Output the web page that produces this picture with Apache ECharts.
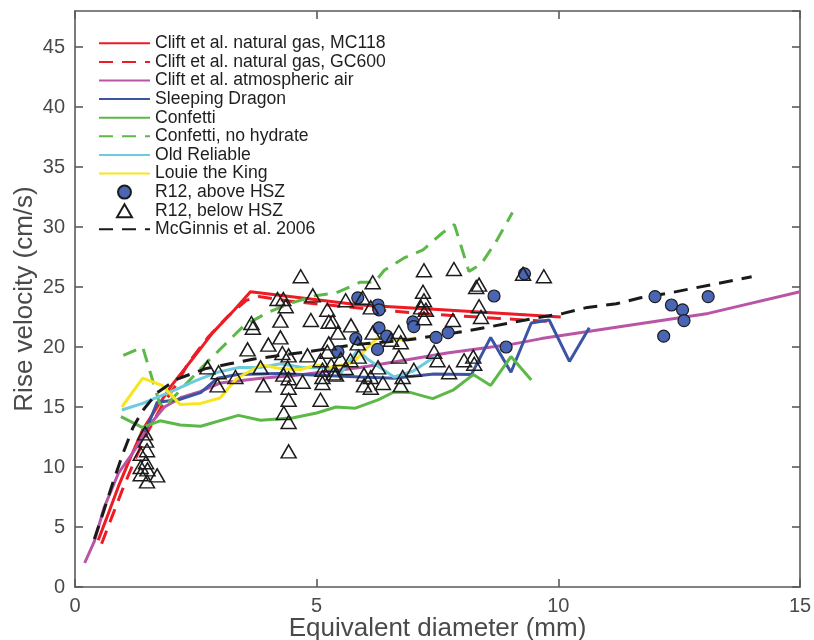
<!DOCTYPE html>
<html>
<head>
<meta charset="utf-8">
<script src="https://cdn.jsdelivr.net/npm/echarts@6/dist/echarts.min.js"></script>
<style>
html, body { margin: 0; padding: 0; background: #fff; }
#chart { width: 814px; height: 640px; }
</style>
</head>
<body>
<div id="chart"></div>
<script>
// axis ticks
let xTicks = [0, 5, 10, 15];
let yTicks = [0, 5, 10, 15, 20, 25, 30, 35, 40, 45];

// [diameter mm, rise velocity cm/s]
let cliftMC118 = [[0.48,3.9],[0.66,5.8],[0.9,8.4],[1.15,10.8],[1.4,13.1],[1.7,15.0],[2.0,16.8],[2.45,19.1],[2.85,21.2],[3.3,23.1],[3.63,24.6],[5.9,23.5],[7.6,23.1],[10.05,22.5]];
let cliftGC600 = [[0.55,3.6],[0.75,5.7],[1.0,8.3],[1.25,10.7],[1.5,12.9],[1.8,15.1],[2.1,16.9],[2.35,18.7],[2.75,20.8],[3.15,22.5],[3.55,23.9],[3.8,24.2],[4.5,23.8],[6.0,23.2],[7.1,22.8],[8.7,22.4],[9.95,22.1]];
let cliftAir = [[0.2,2.0],[0.4,3.8],[0.6,6.6],[0.9,9.5],[1.25,11.5],[1.5,13.3],[1.85,15.0],[2.2,15.8],[2.6,16.3],[3.0,17.0],[3.85,17.4],[4.5,17.6],[5.9,18.3],[6.6,18.75],[7.7,19.5],[9.0,20.2],[9.65,20.7],[11.3,21.7],[13.1,22.8],[15.0,24.6]];
let sleepingDragon = [[1.45,12.9],[1.7,15.4],[2.14,15.6],[2.6,16.2],[2.95,17.4],[3.36,17.7],[4.2,17.8],[5.9,17.5],[6.6,17.4],[7.43,17.75],[8.2,17.7],[8.6,20.8],[9.02,17.9],[9.44,22.0],[9.81,22.25],[10.23,18.8],[10.64,21.6]];
let confetti = [[0.95,14.2],[1.39,13.3],[1.76,13.85],[2.18,13.5],[2.6,13.4],[3.38,14.3],[3.84,13.9],[4.52,14.1],[5.0,14.5],[5.4,15.0],[5.8,14.9],[6.27,15.6],[6.6,16.25],[6.95,16.2],[7.4,15.7],[7.82,16.4],[8.24,17.7],[8.6,16.8],[9.02,19.2],[9.44,17.25]];
let confettiNoHydrate = [[1.0,19.3],[1.4,20.0],[1.75,15.3],[1.85,15.0],[2.2,16.5],[2.6,18.2],[3.0,19.8],[3.5,21.8],[4.0,22.9],[4.5,23.7],[5.0,24.3],[5.4,24.5],[5.9,25.4],[6.2,25.4],[6.4,26.4],[6.8,27.4],[7.2,28.1],[7.6,29.5],[7.85,30.2],[8.15,26.3],[8.4,26.9],[8.7,28.7],[9.05,31.2]];
let oldReliable = [[0.97,14.75],[1.4,15.3],[2.0,16.3],[2.5,17.2],[2.95,17.9],[3.4,18.3],[3.85,18.3],[4.25,18.6],[4.7,18.3],[5.2,18.3],[5.5,17.8],[5.85,19.75],[6.05,19.0],[6.6,17.5],[7.0,18.0],[7.45,19.2]];
let louieTheKing = [[0.97,15.0],[1.4,17.4],[1.8,16.8],[2.18,15.2],[2.6,15.3],[3.0,15.75],[3.35,17.4],[3.85,18.5],[4.25,18.2],[4.65,18.1],[5.0,18.5],[5.3,18.3],[5.75,18.7],[6.0,19.75],[6.27,20.8],[6.7,20.6],[7.05,20.75]];
let mcGinnis = [[0.4,4.0],[0.6,6.4],[0.8,8.9],[1.0,11.2],[1.2,13.3],[1.4,14.7],[1.7,16.2],[2.1,17.3],[2.7,18.2],[3.2,18.6],[3.7,19.0],[4.25,19.3],[4.8,19.6],[5.8,20.2],[6.9,20.6],[7.9,21.2],[8.6,21.7],[9.0,22.0],[9.65,22.5],[10.1,22.8],[10.6,23.3],[11.2,23.6],[11.7,24.1],[12.3,24.5],[12.8,24.9],[13.3,25.3],[14.0,25.85]];

let r12Above = [[5.44,19.6],[5.81,20.7],[5.85,24.1],[6.27,23.5],[6.29,23.1],[6.29,21.6],[6.45,20.9],[6.26,19.8],[6.99,22.1],[7.01,21.7],[7.47,20.8],[7.72,21.2],[8.67,24.25],[8.92,20.0],[9.3,26.1],[12.0,24.2],[12.34,23.5],[12.57,23.1],[12.6,22.2],[12.18,20.9],[13.1,24.2]];
let r12Below = [
  [1.45,12.8],[1.47,12.2],[1.49,11.4],[1.36,11.1],[1.47,10.4],[1.36,10.0],[1.5,9.8],[1.36,9.4],[1.7,9.3],[1.49,8.8],
  [2.74,18.3],[2.97,17.9],[2.95,16.8],[3.32,17.5],[3.57,19.8],[3.65,22.0],[3.68,21.6],[3.84,18.3],[3.9,16.8],[4.0,20.2],
  [4.19,24.0],[4.31,24.0],[4.36,23.4],[4.25,22.2],[4.25,20.8],[4.29,19.5],[4.42,19.3],[4.4,18.3],[4.31,17.7],[4.42,17.4],[4.42,16.6],[4.42,15.6],[4.32,14.5],[4.42,13.75],[4.42,11.3],
  [4.67,25.9],[4.71,17.1],[4.88,22.25],[4.92,24.3],[4.81,19.3],[5.08,15.6],[5.12,17.5],[5.22,23.1],[5.25,22.1],[5.25,20.3],[5.12,18.1],[5.22,19.6],[5.08,18.9],[5.12,17.0],[5.3,18.5],[5.35,17.8],
  [5.44,21.2],[5.33,22.1],[5.6,23.9],[5.95,24.1],[6.12,23.3],[5.71,21.8],[6.16,21.2],[5.85,20.3],[5.87,19.2],[5.6,18.25],[5.4,17.7],[5.98,17.7],[6.12,17.5],[5.98,16.8],[6.12,16.6],[6.16,25.4],[5.5,19.0],[5.7,18.9],
  [6.27,18.3],[6.37,17.0],[6.7,21.25],[6.54,20.6],[6.74,20.4],[6.7,19.2],[6.78,17.5],[6.74,16.8],[7.01,18.1],[7.2,24.6],[7.22,23.9],[7.22,26.4],[7.16,23.3],[7.26,23.1],[7.22,22.4],[7.43,19.6],[7.5,18.9],
  [7.74,17.9],[7.82,22.25],[7.84,26.5],[8.3,25.0],[8.36,25.2],[8.36,23.4],[8.4,22.5],[8.05,18.9],[8.24,19.2],[8.26,18.6],[9.27,26.1],[9.7,25.9]
];

let fontName = 'Liberation Sans, Arial, Helvetica, sans-serif';
let axisGray = '#5a5a5a';
let textGray = '#4a4a4a';

function lineSeries(name, data, color, dashed) {
    return {
        name: name,
        type: 'line',
        data: data,
        symbol: 'none',
        smooth: false,
        lineStyle: { color: color, width: 3, type: dashed ? [14, 9] : 'solid' },
        itemStyle: { color: color },
        z: 2
    };
}

function frameAxis(pos, isX, showLabel) {
    return {
        type: 'value',
        position: pos,
        min: 0,
        max: isX ? 15 : 48,
        interval: 5,
        splitLine: { show: false },
        axisLine: { show: true, onZero: false, lineStyle: { color: axisGray, width: 1.6 } },
        axisTick: { show: true, inside: true, length: 8, lineStyle: { color: axisGray, width: 1.6 } },
        axisLabel: {
            show: showLabel,
            color: textGray,
            fontSize: 20,
            fontFamily: fontName,
            margin: isX ? 9 : 10,
            showMaxLabel: isX
        }
    };
}

// legend: lines without a marker, markers without a line
function lineKey(name) {
    return { name: name, itemStyle: { opacity: 0 } };
}

let chart = echarts.init(document.getElementById('chart'));

let xBottom = frameAxis('bottom', true, true);
xBottom.name = 'Equivalent diameter (mm)';
xBottom.nameLocation = 'middle';
xBottom.nameGap = 29;
xBottom.nameMoveOverlap = false;
xBottom.nameTextStyle = { color: textGray, fontSize: 26, fontFamily: fontName };

let yLeft = frameAxis('left', false, true);
yLeft.name = 'Rise velocity (cm/s)';
yLeft.nameLocation = 'middle';
yLeft.nameGap = 37;
yLeft.nameMoveOverlap = false;
yLeft.nameTextStyle = { color: textGray, fontSize: 26, fontFamily: fontName };

let option = {
    backgroundColor: '#fff',
    animation: false,
    grid: { left: 75, right: 14, top: 11, bottom: 53, outerBoundsMode: 'none' },
    legend: {
        orient: 'vertical',
        left: 98,
        top: 34,
        padding: 0,
        itemWidth: 51,
        itemHeight: 13,
        itemGap: 0,
        textStyle: { color: '#1e1e1e', fontSize: 17.6, fontFamily: fontName, lineHeight: 18.6 },
        data: [
            lineKey('Clift et al. natural gas, MC118'),
            lineKey('Clift et al. natural gas, GC600'),
            lineKey('Clift et al. atmospheric air'),
            lineKey('Sleeping Dragon'),
            lineKey('Confetti'),
            lineKey('Confetti, no hydrate'),
            lineKey('Old Reliable'),
            lineKey('Louie the King'),
            { name: 'R12, above HSZ', icon: 'circle' },
            { name: 'R12, below HSZ', icon: 'path://M0,13L7.5,0L15,13Z' },
            lineKey('McGinnis et al. 2006')
        ]
    },
    xAxis: [xBottom, frameAxis('top', true, false)],
    yAxis: [yLeft, frameAxis('right', false, false)],
    series: [
        lineSeries('Clift et al. natural gas, MC118', cliftMC118, '#ed1c24', false),
        lineSeries('Clift et al. natural gas, GC600', cliftGC600, '#ed1c24', true),
        lineSeries('Clift et al. atmospheric air', cliftAir, '#b955a6', false),
        lineSeries('Sleeping Dragon', sleepingDragon, '#3b54a4', false),
        lineSeries('Confetti', confetti, '#5cb947', false),
        lineSeries('Confetti, no hydrate', confettiNoHydrate, '#5cb947', true),
        lineSeries('Old Reliable', oldReliable, '#6ccbdc', false),
        lineSeries('Louie the King', louieTheKing, '#f7e61c', false),
        {
            name: 'R12, above HSZ',
            type: 'scatter',
            data: r12Above,
            symbol: 'circle',
            symbolSize: 12,
            itemStyle: { color: '#4965b3', borderColor: '#1c1c1c', borderWidth: 1.2, opacity: 1 },
            z: 4
        },
        {
            name: 'R12, below HSZ',
            type: 'scatter',
            data: r12Below,
            symbol: 'triangle',
            symbolSize: [15, 13],
            itemStyle: { color: 'rgba(255,255,255,0)', borderColor: '#1c1c1c', borderWidth: 1.5, opacity: 1 },
            z: 4
        },
        lineSeries('McGinnis et al. 2006', mcGinnis, '#1a1a1a', true)
    ]
};
chart.setOption(option);
</script>
</body>
</html>
